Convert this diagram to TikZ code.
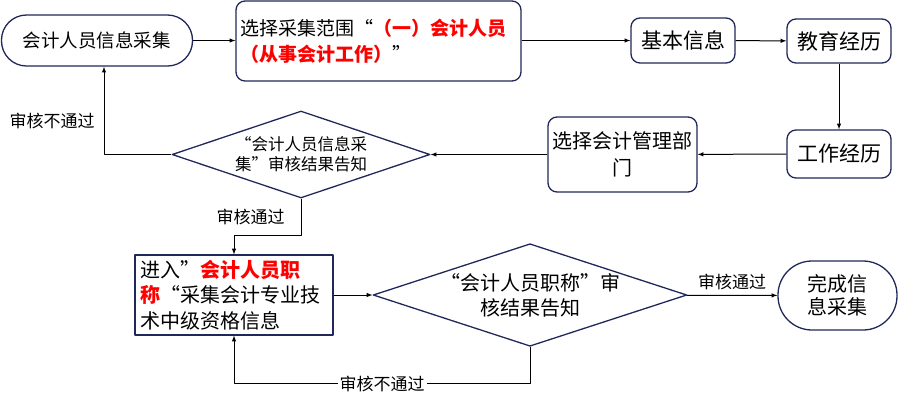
\documentclass[tikz,border=0pt]{standalone}
\usepackage{fontspec}
\setmainfont{Noto Sans CJK SC}
\usetikzlibrary{shapes.geometric}
\definecolor{navy}{RGB}{32,40,90}
\definecolor{hotred}{RGB}{255,0,0}
\newcommand{\hot}[1]{\textcolor{hotred}{\bfseries #1}}
\begin{document}
\begin{tikzpicture}[x=1pt,y=-1pt,line width=1pt,>=latex,line join=round,
  font=\fontsize{20}{26}\selectfont,
  box/.style={draw=navy,line width=1.3pt,rectangle,rounded corners=9pt,inner sep=4pt},
  term/.style={draw=navy,line width=1.3pt,rectangle,inner sep=0pt},
  ask/.style={draw=navy,line width=1.3pt,diamond,inner sep=0pt,align=center},
  lab/.style={font=\fontsize{17}{20}\selectfont,inner sep=2pt}]
  \useasboundingbox (0,0) rectangle (900,400);
  % top row
  \node[term,rounded corners=25pt,minimum width=191,minimum height=51,
    font=\fontsize{18.5}{22}\selectfont] (start) at (97,40.5) {会计人员信息采集};
  \node[box,minimum width=285,minimum height=80,text width=277,align=left,
    font=\fontsize{19}{26}\selectfont]
    (scope) at (378.5,41) {选择采集范围“\hot{（一）会计人员}\\\hot{（从事会计工作）}”};
  \node[box,minimum width=104,minimum height=45,font=\fontsize{21}{25}\selectfont]
    (basic) at (683,40.5) {基本信息};
  \node[box,minimum width=104,minimum height=44,font=\fontsize{21}{25}\selectfont]
    (edu) at (839,41) {教育经历};
  % middle row
  \node[box,minimum width=104,minimum height=48,font=\fontsize{21}{25}\selectfont]
    (work) at (839,154) {工作经历};
  \node[box,minimum width=149,minimum height=75,align=center,
    font=\fontsize{20}{27}\selectfont] (dept) at (622.5,154.5) {选择会计管理部\\门};
  \node[ask,minimum width=258,minimum height=87,aspect=2.97,
    font=\fontsize{16.5}{20}\selectfont] (check1) at (301,154.5)
    {“会计人员信息采\\集”审核结果告知};
  % bottom row
  \node[term,rounded corners=0pt,line width=1.1pt,minimum width=198,minimum height=76,
    text width=188,inner sep=5pt,align=left,font=\fontsize{20}{25.5}\selectfont]
    (title) at (234,295) {进入”\hot{会计人员职}\\\hot{称}“采集会计专业技\\术中级资格信息};
  \node[ask,minimum width=306,minimum height=100,aspect=3.06,
    font=\fontsize{20}{25}\selectfont] (check2) at (530,295)
    {“会计人员职称”审\\核结果告知};
  \node[term,rounded corners=34pt,minimum width=119,minimum height=69,align=center,
    font=\fontsize{20}{23.5}\selectfont] (done) at (837.5,295.5) {完成信\\息采集};
  % connectors
  \draw[->] (start.east) -- (start.east -| scope.west);
  \draw[->] (scope.east |- basic) -- (basic.west);
  \draw[->] (basic) -- (edu);
  \draw[->] (edu) -- (work);
  \draw[->] (work) -- (dept);
  \draw[->] (dept) -- (check1);
  \draw[->] (check1.west) -| ([xshift=7pt]start.south)
    node[lab,pos=.69,left=7pt] {审核不通过};
  \draw[->] (check1.south) -- ++(0,37) node[lab,midway,left=14pt] {审核通过}
    -| (title.north);
  \draw[->] (title) -- (check2);
  \draw[->] (check2.south) -- ++(0,37) -| (title.south)
    node[lab,pos=.25,fill=white] {审核不通过};
  \draw[->] (check2) -- (done) node[lab,midway,above=3pt] {审核通过};
\end{tikzpicture}
\end{document}
